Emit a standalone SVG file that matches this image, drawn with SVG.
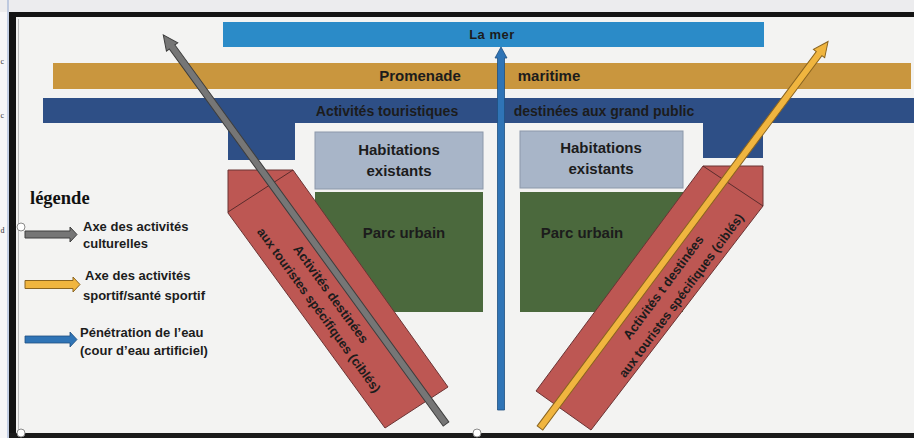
<svg xmlns="http://www.w3.org/2000/svg" width="914" height="438" viewBox="0 0 914 438">
<style>
  .lbl{font-family:"Liberation Sans",Arial,sans-serif;font-weight:bold;fill:#1c1c1c}
  .bar{stroke:none}
  .band{fill:#bd5753;stroke:#6b3434;stroke-width:1}
  .capline{stroke:#5a2c2c;stroke-width:1;fill:none}
  .hab{fill:#a8b5c8;stroke:#8c98aa;stroke-width:1}
  .parc{fill:#4b693d}
  .arrow-gray{fill:#767676;stroke:#3e3e3e;stroke-width:1}
  .arrow-yellow{fill:#f0b53f;stroke:#8a6420;stroke-width:1}
  .arrow-blue{fill:#2f74b6;stroke:#1f4f80;stroke-width:0.8}
  .handle{fill:#ffffff;stroke:#8a8a8a;stroke-width:1}
  .margin{font-family:"Liberation Serif",serif;font-size:8px;fill:#333}
</style>

<!-- page background -->
<rect x="0" y="0" width="914" height="438" fill="#f6f6f8"/>
<rect x="0" y="0" width="914" height="12" fill="#ececee"/>
<line x1="8" y1="0" x2="8" y2="438" stroke="#8fa6d0" stroke-width="1"/>
<text class="margin" x="0.5" y="64">c</text>
<text class="margin" x="0.5" y="118">c</text>
<text class="margin" x="0.5" y="233">d</text>

<!-- image frame -->
<rect x="16" y="17" width="898" height="416" fill="#f3f3f2"/>
<rect x="9" y="12" width="905" height="5" fill="#141414"/>
<rect x="9" y="12" width="7" height="426" fill="#141414"/>
<rect x="9" y="433" width="905" height="5" fill="#1a1a1a"/>
<line x1="18.5" y1="19" x2="18.5" y2="432" stroke="#bdbdbd" stroke-width="1"/>

<g id="la-mer">
  <rect class="bar" x="223" y="22" width="541" height="25" fill="#2b8bc8"/>
  <text class="lbl" x="492" y="39" font-size="13" letter-spacing="0.5" text-anchor="middle">La mer</text>
</g>

<g id="promenade-maritime">
  <rect class="bar" x="53" y="63" width="858" height="26" fill="#c9963e"/>
  <text class="lbl" x="420" y="81" font-size="15" text-anchor="middle">Promenade</text>
  <text class="lbl" x="549" y="81" font-size="15" text-anchor="middle">maritime</text>
</g>

<g id="activites-grand-public">
  <path class="bar" d="M43,98 H914 V123 H763 V158 H703 V123 H295 V160 H228 V123 H43 Z" fill="#2e4f86"/>
  <text class="lbl" x="387" y="116" font-size="14" text-anchor="middle">Activités touristiques</text>
  <text class="lbl" x="604" y="116" font-size="14" text-anchor="middle">destinées aux grand public</text>
</g>

<g id="habitations-gauche">
  <rect class="hab" x="315" y="132" width="168" height="57"/>
  <text class="lbl" x="399" y="155" font-size="15" text-anchor="middle">Habitations</text>
  <text class="lbl" x="399" y="176" font-size="15" text-anchor="middle">existants</text>
</g>

<g id="parc-urbain-gauche">
  <rect class="parc" x="315" y="192" width="168" height="120"/>
  <text class="lbl" x="404" y="238" font-size="15" text-anchor="middle">Parc urbain</text>
</g>

<g id="habitations-droite">
  <rect class="hab" x="520" y="131" width="163" height="57"/>
  <text class="lbl" x="601" y="153" font-size="15" text-anchor="middle">Habitations</text>
  <text class="lbl" x="601" y="174" font-size="15" text-anchor="middle">existants</text>
</g>

<g id="parc-urbain-droite">
  <rect class="parc" x="520" y="192" width="163" height="120"/>
  <text class="lbl" x="582" y="238" font-size="15" text-anchor="middle">Parc urbain</text>
</g>

<g id="bande-gauche">
  <polygon class="band" points="228,170 293,170 448,387 385,428 228,213"/>
  <line class="capline" x1="228" y1="212" x2="293" y2="170"/>
  <g transform="translate(325,302) rotate(54)">
    <text class="lbl" x="-3" y="-5" font-size="13" text-anchor="middle">Activités destinées</text>
    <text class="lbl" x="3" y="14" font-size="12.7" text-anchor="middle">aux touristes spécifiques (ciblés)</text>
  </g>
</g>

<g id="bande-droite">
  <polygon class="band" points="703,166 763,166 763,206 591,430 536,391"/>
  <line class="capline" x1="703" y1="166" x2="763" y2="206"/>
  <g transform="translate(673,292) rotate(-53.5)">
    <text class="lbl" x="-2" y="-6" font-size="13" text-anchor="middle">Activités t destinées</text>
    <text class="lbl" x="2" y="13" font-size="12.7" text-anchor="middle">aux touristes spécifiques (ciblés)</text>
  </g>
</g>

<g id="connectors">
  <!-- axe des activités culturelles (gris) -->
  <polygon class="arrow-gray" transform="translate(446,424) rotate(-126)" points="0,-3.5 466,-3.5 466,-7 481,0 466,7 466,3.5 0,3.5"/>
  <!-- axe sportif (jaune) -->
  <polygon class="arrow-yellow" transform="translate(540,428) rotate(-53.3)" points="0,-3.5 467,-3.5 467,-7 482,0 467,7 467,3.5 0,3.5"/>
  <!-- pénétration de l'eau (bleu) -->
  <polygon class="arrow-blue" transform="translate(501,410) rotate(-90)" points="0,-3.5 352,-3.5 352,-6 363,0 352,6 352,3.5 0,3.5"/>
</g>

<g id="legende">
  <text x="30" y="204" font-family="Liberation Serif,serif" font-weight="bold" font-size="18.5" fill="#111">légende</text>
  <g id="legende-culturelles">
    <polygon class="arrow-gray" points="25,231 70,231 70,227 77,234.5 70,242 70,238 25,238"/>
    <text class="lbl" x="83" y="231" font-size="13">Axe des activités</text>
    <text class="lbl" x="83" y="248" font-size="13">culturelles</text>
  </g>
  <g id="legende-sportif">
    <polygon class="arrow-yellow" points="25,280.5 73,280.5 73,277 80,284.5 73,292 73,288.5 25,288.5"/>
    <text class="lbl" x="85" y="280" font-size="13">Axe des activités</text>
    <text class="lbl" x="83" y="300" font-size="13">sportif/santé sportif</text>
  </g>
  <g id="legende-eau">
    <polygon class="arrow-blue" points="25,336 70,336 70,332 77,339.5 70,347 70,343 25,343"/>
    <text class="lbl" x="80" y="337" font-size="13">Pénétration de l’eau</text>
    <text class="lbl" x="80" y="355" font-size="13">(cour d’eau artificiel)</text>
  </g>
</g>

<!-- selection handles -->
<circle class="handle" cx="21" cy="227" r="4"/>
<circle class="handle" cx="21" cy="433" r="4"/>
<circle class="handle" cx="477" cy="433" r="4"/>
</svg>
